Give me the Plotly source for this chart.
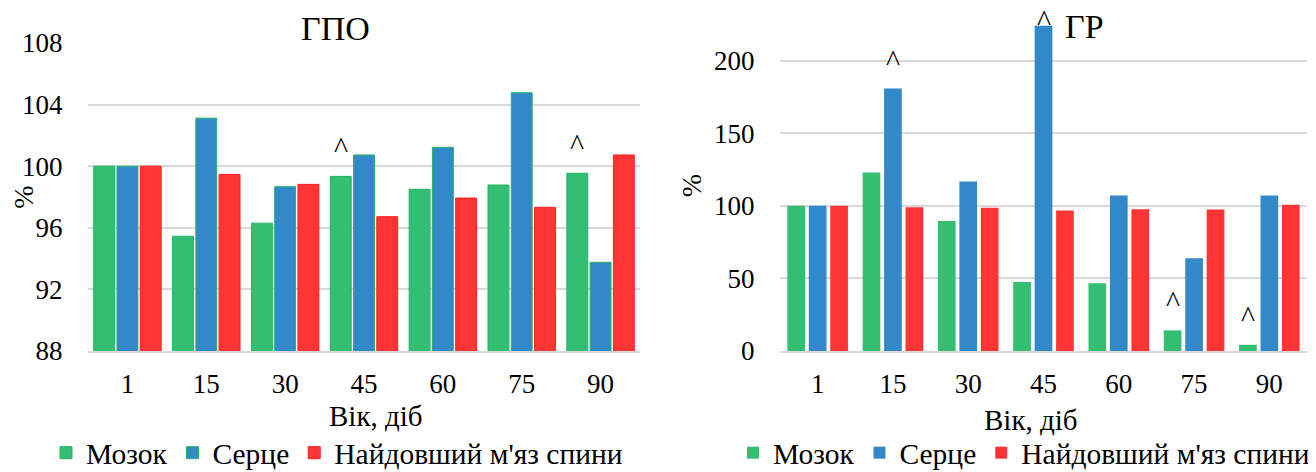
import plotly.graph_objects as go

# ---- data ----
ages = ["1", "15", "30", "45", "60", "75", "90"]
series_names = ["Мозок", "Серце", "Найдовший м'яз спини"]

gpo_brain = [100, 95.45, 96.3, 99.34, 98.5, 98.78, 99.54]
gpo_heart = [100, 103.12, 98.67, 100.73, 101.23, 104.77, 93.76]
gpo_muscle = [100, 99.47, 98.82, 96.72, 97.93, 97.33, 100.73]

gr_brain = [100, 122.9, 89.5, 47.5, 46.6, 14.2, 4.3]
gr_heart = [100, 180.8, 116.7, 224.0, 107.1, 63.9, 107.1]
gr_muscle = [100, 99.1, 98.6, 96.8, 97.7, 97.5, 100.7]

# significance markers: (age, series index)
gpo_marks = [("45", 0), ("90", 0)]
gr_marks = [("15", 1), ("45", 1), ("75", 0), ("90", 0)]

titles = ["ГПО", "ГР"]
x_title = "Вік, діб"
y_title = "%"

# ---- style ----
# the page body has an 8px margin; the figure fills the rest of the window
OFF = 8
W, H = 1316 - OFF, 472 - OFF
FONT = "Liberation Serif"
colors = ["#33BE72", "#3388CA", "#FF3434"]
left_lines = ["#22B560", "#22B560", "#FF1E1E"]
GRID = "#D9D9D9"


def px2x(p):
    return (p - OFF) / W


def px2y(p):
    return 1 - (p - OFF) / H


L_X = [88, 640]
L_Y = [43, 351]
R_X = [780, 1307]
R_Y = [20, 351]

fig = go.Figure()

# left panel
lw, ls = 0.265, 0.295
for i, (vals, name) in enumerate(zip([gpo_brain, gpo_heart, gpo_muscle], series_names)):
    fig.add_trace(go.Bar(
        x=ages, y=vals, name=name, xaxis="x", yaxis="y",
        width=lw, offset=(i - 1) * ls - lw / 2,
        marker=dict(color=colors[i], line=dict(color=left_lines[i], width=1)),
        legend="legend", showlegend=True, hoverinfo="x+y+name",
    ))

# right panel
rw, rs = 0.235, 0.285
for i, (vals, name) in enumerate(zip([gr_brain, gr_heart, gr_muscle], series_names)):
    fig.add_trace(go.Bar(
        x=ages, y=vals, name=name, xaxis="x2", yaxis="y2",
        width=rw, offset=(i - 1) * rs - rw / 2,
        marker=dict(color=colors[i], line=dict(width=0)),
        legend="legend2", showlegend=True, hoverinfo="x+y+name",
    ))

tickfont = dict(family=FONT, size=27, color="black")
titlefont = dict(family=FONT, size=28, color="black")

common_x = dict(type="category", showgrid=False, zeroline=False, showline=True,
                linecolor=GRID, linewidth=1.5, ticks="outside", ticklen=8,
                tickcolor="rgba(0,0,0,0)", tickfont=tickfont, automargin=False)
common_y = dict(showgrid=True, gridcolor=GRID, gridwidth=1.5, zeroline=False,
                showline=False, ticks="outside", ticklen=19, automargin=False,
                tickcolor="rgba(0,0,0,0)", tickfont=tickfont,
                title=dict(text=y_title, font=titlefont, standoff=4))

legend_font = dict(family=FONT, size=29.5, color="black")

fig.update_layout(
    template="none",
    width=W, height=H, autosize=False,
    margin=dict(l=0, r=0, t=0, b=0, autoexpand=False),
    paper_bgcolor="white", plot_bgcolor="white",
    font=dict(family=FONT, color="black"),
    barmode="overlay",
    xaxis=dict(domain=[px2x(L_X[0]), px2x(L_X[1])], anchor="y",
               range=[-0.5, 6.5], **common_x),
    yaxis=dict(domain=[px2y(L_Y[1]), px2y(L_Y[0])], anchor="x",
               range=[88, 108], tickvals=[88, 92, 96, 100, 104, 108], **common_y),
    xaxis2=dict(domain=[px2x(R_X[0]), px2x(R_X[1])], anchor="y2",
                range=[-0.5, 6.5], **common_x),
    yaxis2=dict(domain=[px2y(R_Y[1]), px2y(R_Y[0])], anchor="x2",
                range=[0, 228], tickvals=[0, 50, 100, 150, 200], **common_y),
    legend=dict(orientation="h", x=px2x(46), y=px2y(453), xanchor="left", yanchor="middle",
                font=legend_font, bgcolor="rgba(0,0,0,0)", traceorder="normal"),
    legend2=dict(orientation="h", x=px2x(733), y=px2y(453), xanchor="left", yanchor="middle",
                 font=legend_font, bgcolor="rgba(0,0,0,0)", traceorder="normal"),
    showlegend=True,
)

# panel titles
fig.add_annotation(text=titles[0], xref="paper", yref="paper", x=px2x(336), y=px2y(28),
                   showarrow=False, font=dict(family=FONT, size=34, color="black"),
                   xanchor="center", yanchor="middle")
fig.add_annotation(text=titles[1], xref="paper", yref="paper", x=px2x(1084), y=px2y(27),
                   showarrow=False, font=dict(family=FONT, size=34, color="black"),
                   xanchor="center", yanchor="middle")

# x-axis titles
fig.add_annotation(text=x_title, xref="paper", yref="paper", x=px2x(376), y=px2y(416),
                   showarrow=False, font=dict(family=FONT, size=29, color="black"),
                   xanchor="center", yanchor="middle", borderpad=0)
fig.add_annotation(text=x_title, xref="paper", yref="paper", x=px2x(1031), y=px2y(420),
                   showarrow=False, font=dict(family=FONT, size=29, color="black"),
                   xanchor="center", yanchor="middle", borderpad=0)

# significance carets (category axes take serial positions)
gpo_series = [gpo_brain, gpo_heart, gpo_muscle]
gr_series = [gr_brain, gr_heart, gr_muscle]
for age, si in gpo_marks:
    k = ages.index(age)
    v = gpo_series[si][k]
    fig.add_annotation(text="^", x=k + (si - 1) * ls, y=v, xref="x", yref="y", showarrow=False,
                       yshift=11, yanchor="bottom", borderpad=0,
                       font=dict(family=FONT, size=30, color="black"))
for age, si in gr_marks:
    k = ages.index(age)
    v = gr_series[si][k]
    ys = 11 if v < 200 else -12
    fig.add_annotation(text="^", x=k + (si - 1) * rs, y=v, xref="x2", yref="y2", showarrow=False,
                       yshift=ys, yanchor="bottom", borderpad=0,
                       font=dict(family=FONT, size=30, color="black"))

fig.write_html("out.html")
